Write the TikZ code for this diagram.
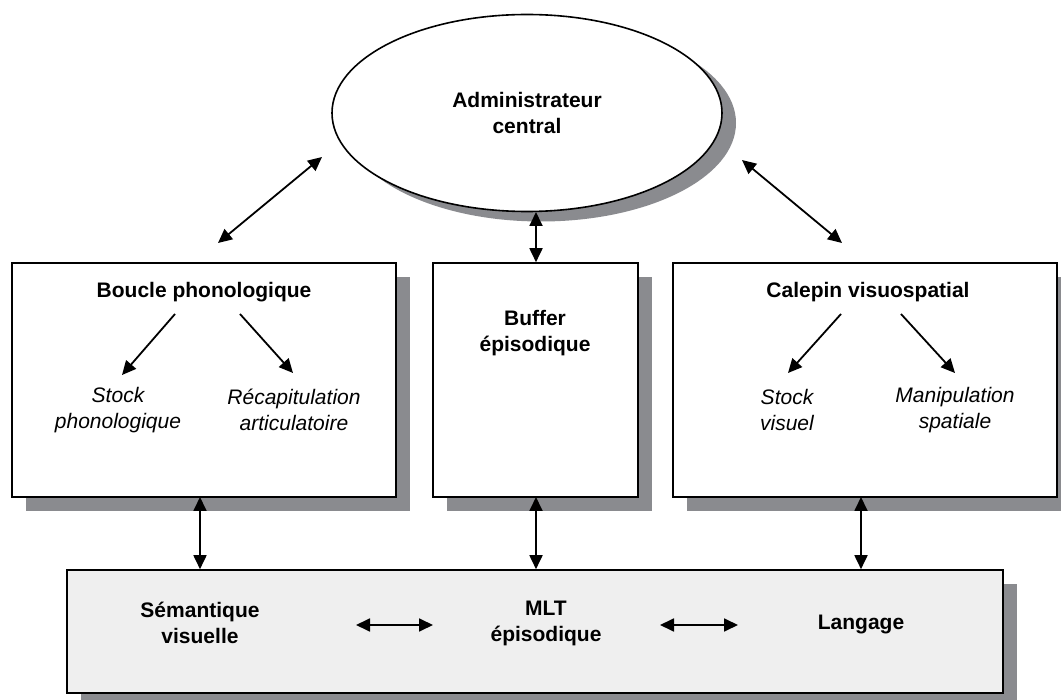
\documentclass[tikz,border=0pt]{standalone}
\usepackage{fontspec}
\setmainfont{Liberation Sans}
\usetikzlibrary{arrows.meta,shadows,shapes.geometric}
\definecolor{shade}{RGB}{138,139,143}
\definecolor{memfill}{RGB}{239,239,239}
\begin{document}
\begin{tikzpicture}[x=1pt,y=-1pt,
  every node/.style={font=\fontsize{21}{26}\selectfont},
  panel/.style={rectangle, draw=black, line width=1.6pt, fill=white, inner sep=0pt,
    drop shadow={shadow xshift=14pt, shadow yshift=-14pt, fill=shade, opacity=1}},
  hub/.style={ellipse, draw=black, line width=1.6pt, fill=white, inner sep=0pt,
    drop shadow={shadow xshift=14pt, shadow yshift=-10pt, fill=shade, opacity=1}},
  title/.style={align=center, font=\fontsize{21}{26}\selectfont\bfseries},
  item/.style={align=center, font=\fontsize{21}{26}\selectfont\itshape},
  arr/.style={-{Triangle[length=14pt,width=13pt]}, line width=1.8pt},
  biarr/.style={{Triangle[length=14pt,width=13pt]}-{Triangle[length=14pt,width=13pt]}, line width=1.8pt}]
\useasboundingbox[fill=white] (0,0) rectangle (1061,700);

% central executive
\node[hub, minimum width=390pt, minimum height=197pt] (ce) at (527,113) {};
\node[title] (ceT) at (527,113) {Administrateur\\central};

% three subsystems
\node[panel, minimum width=384pt, minimum height=234pt] (pl) at (204,380) {};
\node[panel, minimum width=205pt, minimum height=234pt] (eb) at (535.5,380) {};
\node[panel, minimum width=384pt, minimum height=234pt] (vs) at (865,380) {};

% long-term memory
\node[panel, fill=memfill, minimum width=936pt, minimum height=123pt] (ltm) at (535,631.5) {};

% phonological loop
\node[title] (plT) at (204,292) {Boucle phonologique};
\node[item] (plA) at (118,410) {Stock\\phonologique};
\node[item] (plB) at (294,410) {Récapitulation\\articulatoire};

% episodic buffer
\node[title] (ebT) at (535,333) {Buffer\\épisodique};

% visuospatial sketchpad
\node[title] (vsT) at (868,292) {Calepin visuospatial};
\node[item] (vsA) at (787,410) {Stock\\visuel};
\node[item] (vsB) at (955,410) {Manipulation\\spatiale};

% long-term stores
\node[title] (sem) at (200,623) {Sémantique\\visuelle};
\node[title] (mlt) at (546,623) {MLT\\épisodique};
\node[title] (lang) at (861,625) {Langage};

% free ends of the links around the central executive
\coordinate (l1) at (218,243);
\coordinate (l2) at (322,157);
\coordinate (r1) at (742,160);
\coordinate (r2) at (842,243);

\draw[biarr] (l1) -- (l2);
\draw[biarr] (r1) -- (r2);
\draw[biarr] (eb.north -| 536,0) -- (536,212);

% links down to long-term memory
\draw[biarr] (200,497) -- (ltm.north -| 200,0);
\draw[biarr] (536,497) -- (ltm.north -| 536,0);
\draw[biarr] (861,497) -- (ltm.north -| 861,0);

% links inside long-term memory
\draw[biarr] (356,625) -- (433,625);
\draw[biarr] (660,625) -- (738,625);

% components inside the subsystems
\draw[arr] (175,314) -- (122,375);
\draw[arr] (240,314) -- (293,373);
\draw[arr] (841,314) -- (788,373);
\draw[arr] (901,314) -- (955,373);
\end{tikzpicture}
\end{document}
